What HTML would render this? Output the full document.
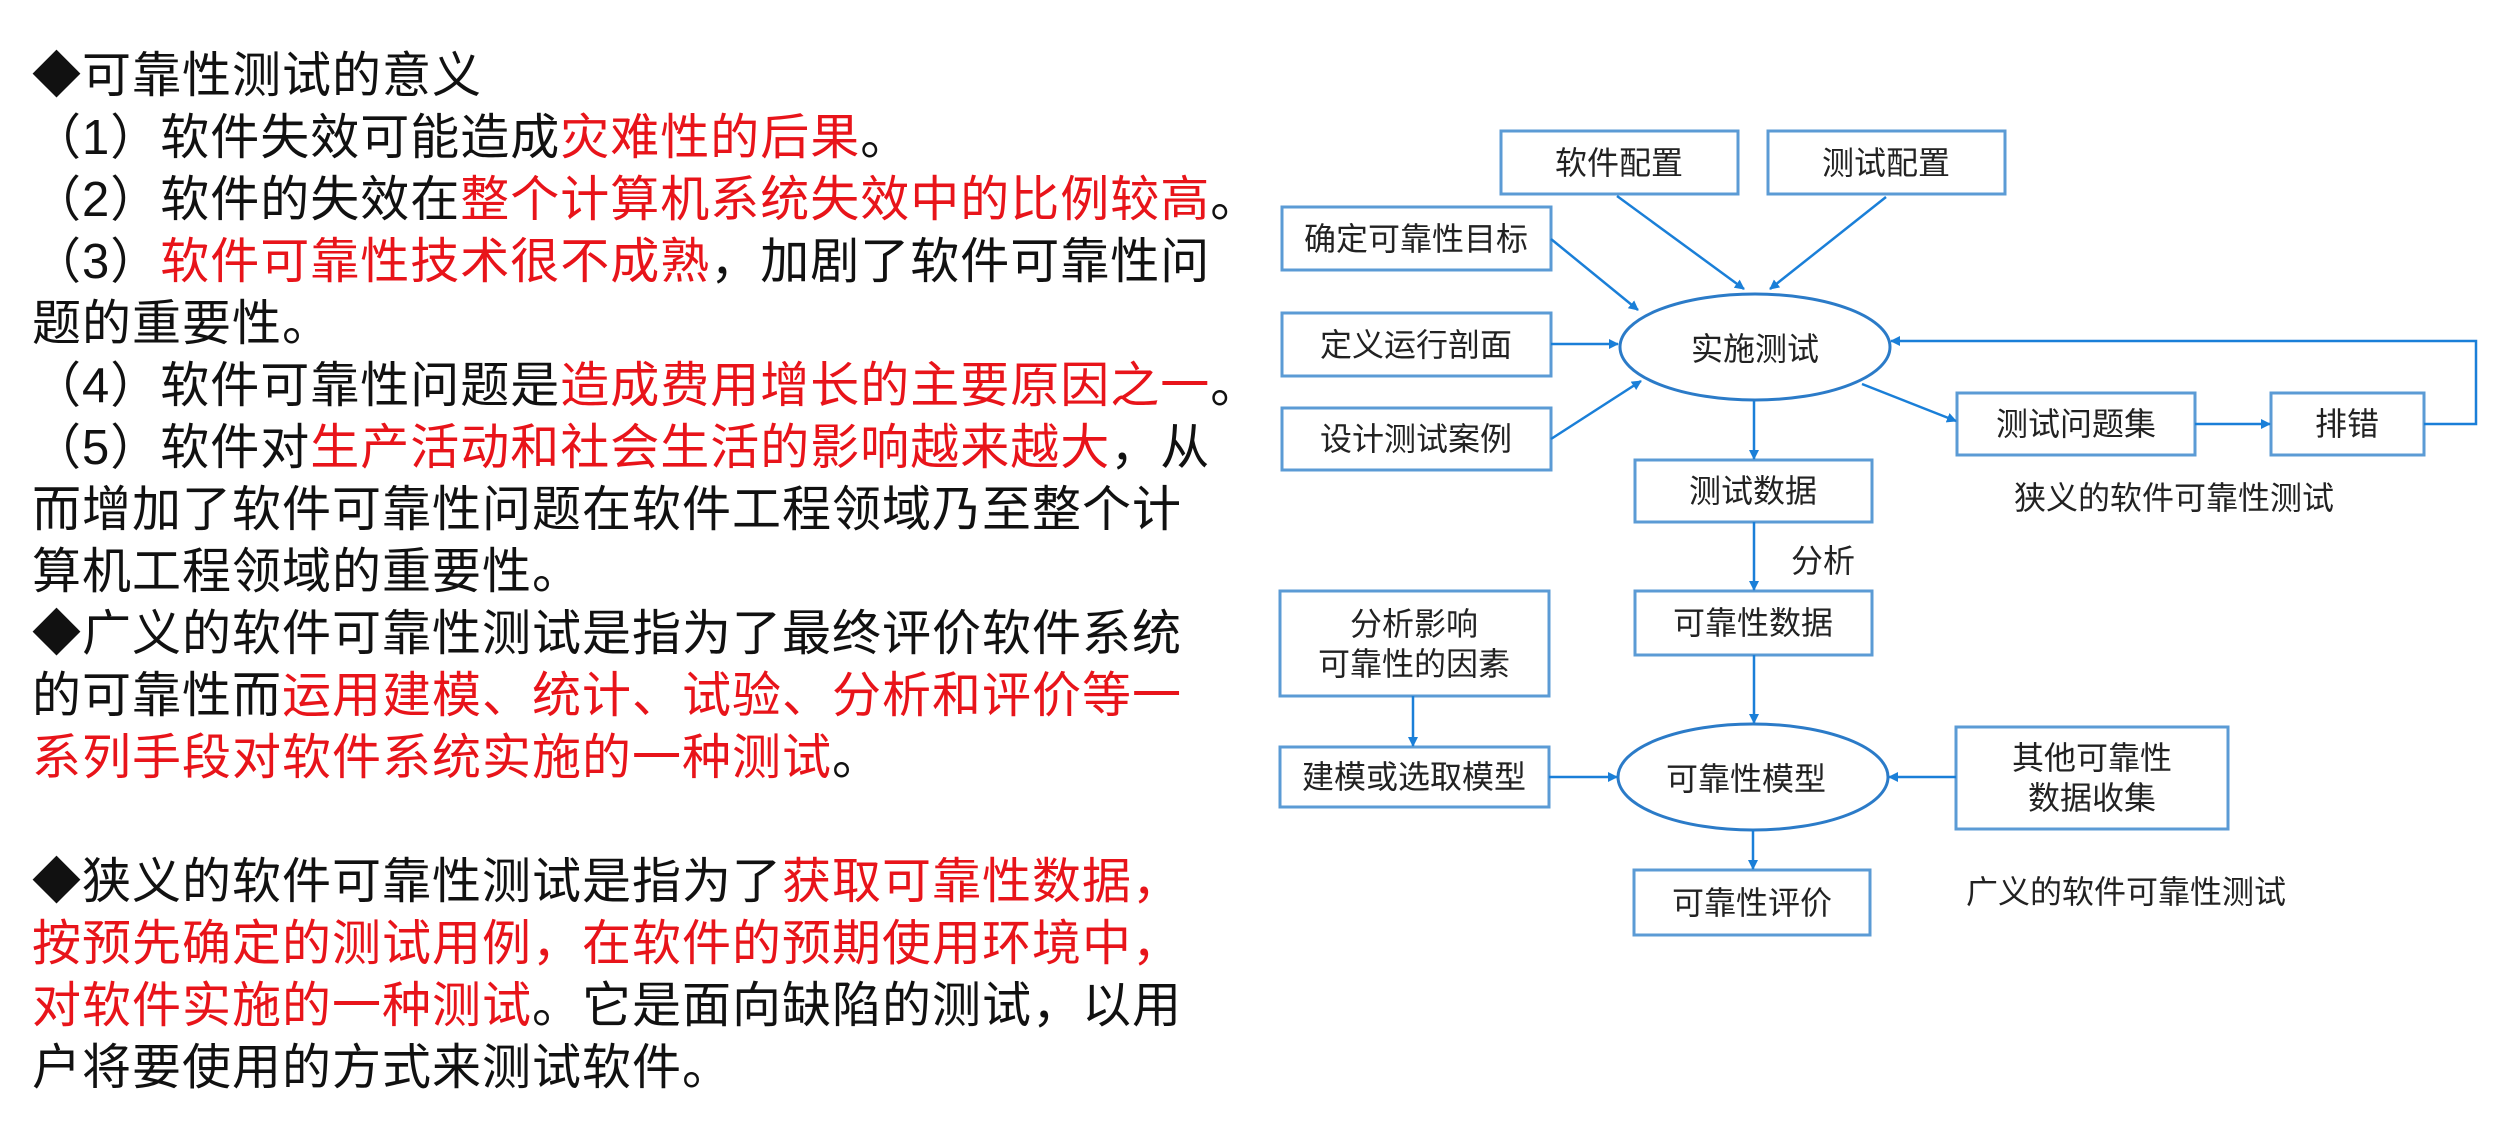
<!DOCTYPE html>
<html><head><meta charset="utf-8"><style>
body{margin:0;width:2495px;height:1137px;background:#fff;overflow:hidden;position:relative;font-family:"Liberation Sans","Noto Sans CJK SC",sans-serif}
#t{position:absolute;left:32px;top:45px;font-size:49px;letter-spacing:1px;line-height:62px;color:#111;white-space:nowrap}
.r{color:#e8141a}
svg{position:absolute;left:0;top:0}
</style></head><body>
<div id="t">
<div>◆可靠性测试的意义</div>
<div>（1）软件失效可能造成<span class="r">灾难性的后果</span>。</div>
<div>（2）软件的失效在<span class="r">整个计算机系统失效中的比例较高</span>。</div>
<div>（3）<span class="r">软件可靠性技术很不成熟</span>，加剧了软件可靠性问</div>
<div>题的重要性。</div>
<div>（4）软件可靠性问题是<span class="r">造成费用增长的主要原因之一</span>。</div>
<div>（5）软件对<span class="r">生产活动和社会生活的影响越来越大</span>，从</div>
<div>而增加了软件可靠性问题在软件工程领域乃至整个计</div>
<div>算机工程领域的重要性。</div>
<div>◆广义的软件可靠性测试是指为了最终评价软件系统</div>
<div>的可靠性而<span class="r">运用建模、统计、试验、分析和评价等一</span></div>
<div><span class="r">系列手段对软件系统实施的一种测试</span>。</div>
<div>&nbsp;</div>
<div>◆狭义的软件可靠性测试是指为了<span class="r">获取可靠性数据，</span></div>
<div><span class="r">按预先确定的测试用例，在软件的预期使用环境中，</span></div>
<div><span class="r">对软件实施的一种测试</span>。它是面向缺陷的测试，以用</div>
<div>户将要使用的方式来测试软件。</div>
</div>
<svg width="2495" height="1137" xmlns="http://www.w3.org/2000/svg" font-family="Liberation Sans, Noto Sans CJK SC, sans-serif" font-size="32" fill="#222">
<defs><marker id="a" markerWidth="10" markerHeight="10" refX="9" refY="5" orient="auto" markerUnits="userSpaceOnUse"><path d="M0,0 L10,5 L0,10 z" fill="#1a7fd8"/></marker></defs>
<g fill="none" stroke="#5b9bd5" stroke-width="3">
<rect x="1501" y="131" width="237" height="63"/>
<rect x="1768" y="131" width="237" height="63"/>
<rect x="1282" y="207" width="269" height="63"/>
<rect x="1282" y="313" width="269" height="63"/>
<rect x="1282" y="408" width="269" height="62"/>
<ellipse cx="1755" cy="347" rx="135" ry="53" stroke="#2b7bc8"/>
<rect x="1957" y="393" width="238" height="62"/>
<rect x="2271" y="393" width="153" height="62"/>
<rect x="1635" y="460" width="237" height="62"/>
<rect x="1635" y="591" width="237" height="64"/>
<rect x="1280" y="591" width="269" height="105"/>
<rect x="1280" y="747" width="269" height="60"/>
<ellipse cx="1753" cy="777" rx="135" ry="53" stroke="#2b7bc8"/>
<rect x="1956" y="727" width="272" height="102"/>
<rect x="1634" y="870" width="236" height="65"/>
</g>
<g fill="none" stroke="#1a7fd8" stroke-width="2.5" marker-end="url(#a)">
<line x1="1617" y1="196" x2="1744" y2="289"/>
<line x1="1886" y1="197" x2="1770" y2="289"/>
<line x1="1551" y1="239" x2="1638" y2="310"/>
<line x1="1551" y1="344" x2="1618" y2="344"/>
<line x1="1551" y1="439" x2="1641" y2="381"/>
<line x1="1862" y1="384" x2="1956" y2="421"/>
<line x1="1754" y1="401" x2="1754" y2="459"/>
<line x1="2195" y1="424" x2="2270" y2="424"/>
<polyline points="2424,424 2476,424 2476,341 1891,341"/>
<line x1="1754" y1="522" x2="1754" y2="590"/>
<line x1="1754" y1="655" x2="1754" y2="723"/>
<line x1="1413" y1="696" x2="1413" y2="746"/>
<line x1="1549" y1="777" x2="1617" y2="777"/>
<line x1="1956" y1="777" x2="1889" y2="777"/>
<line x1="1753" y1="830" x2="1753" y2="869"/>
</g>
<g text-anchor="middle" dominant-baseline="central">
<text x="1619" y="163">软件配置</text>
<text x="1886" y="163">测试配置</text>
<text x="1416" y="239">确定可靠性目标</text>
<text x="1416" y="345">定义运行剖面</text>
<text x="1416" y="439">设计测试案例</text>
<text x="1755" y="349">实施测试</text>
<text x="2076" y="424">测试问题集</text>
<text x="2347" y="424">排错</text>
<text x="1753" y="491">测试数据</text>
<text x="1823" y="561">分析</text>
<text x="1753" y="623">可靠性数据</text>
<text x="1414" y="624">分析影响</text>
<text x="1414" y="664">可靠性的因素</text>
<text x="1414" y="777">建模或选取模型</text>
<text x="1746" y="779">可靠性模型</text>
<text x="2092" y="758">其他可靠性</text>
<text x="2092" y="798">数据收集</text>
<text x="1752" y="903">可靠性评价</text>
<text x="2174" y="498">狭义的软件可靠性测试</text>
<text x="2126" y="892">广义的软件可靠性测试</text>
</g>
</svg>
</body></html>
